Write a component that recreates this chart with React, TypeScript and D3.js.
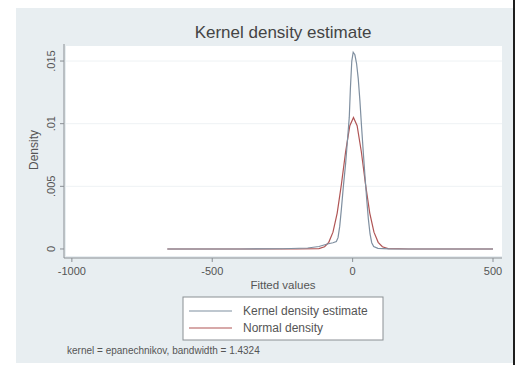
import { useEffect } from 'react';
import * as d3 from 'd3';

const W = 518;
const H = 371;

// kernel density estimate
const kernelX = [-660, -400, -250, -160, -120, -90, -70, -58, -52, -46, -40, -33, -25, -18, -12, -8, -3, 2, 8, 14, 20, 26, 32, 38, 44, 50, 56, 62, 68, 75, 90, 130, 200, 500];
const kernelY = [0, 0, 0.00002, 0.00008, 0.0002, 0.0004, 0.0005, 0.0006, 0.0009, 0.0018, 0.0032, 0.005, 0.0068, 0.0088, 0.0105, 0.0128, 0.015, 0.0157, 0.0155, 0.0148, 0.0136, 0.0118, 0.0097, 0.0077, 0.0058, 0.004, 0.0024, 0.0012, 0.0005, 0.0002, 0.00005, 0.00001, 0, 0];

// normal density
const normalX = [-660, -300, -200, -120, -100, -85, -70, -55, -40, -25, -10, 3, 16, 31, 46, 61, 76, 91, 106, 126, 200, 300, 500];
const normalY = [0, 0, 0, 0.00003, 0.00018, 0.00053, 0.00134, 0.00287, 0.00515, 0.00776, 0.00984, 0.0105, 0.00984, 0.00776, 0.00515, 0.00287, 0.00134, 0.00053, 0.00018, 0.00003, 0, 0, 0];

const xTicks = [-1000, -500, 0, 500];
const yTicks = [0, 0.005, 0.01, 0.015];
const yTickLabels = ['0', '.005', '.01', '.015'];
const legendLabels = ['Kernel density estimate', 'Normal density'];
const seriesColors = ['#7f8fa0', '#b05555'];

const font = '"Liberation Sans", Arial, sans-serif';

type Pt = { x: number; y: number };

export default function App() {
    useEffect(() => {
        document.body.style.margin = '0';
    }, []);

    // plot region
    const left = 64;
    const right = 502;
    const top = 44;
    const bottom = 258;

    const xScale = d3.scaleLinear().domain([-1028, 532]).range([left, right]);
    const yScale = d3.scaleLinear().domain([-0.00072, 0.01636]).range([bottom, top]);

    const line = d3
        .line<Pt>()
        .x((d) => xScale(d.x))
        .y((d) => yScale(d.y));

    const kernel = kernelX.map((x, i) => ({ x, y: kernelY[i] }));
    const normal = normalX.map((x, i) => ({ x, y: normalY[i] }));

    const legX = 183;
    const legY = 297;

    return (
        <svg width={W} height={H} style={{ display: 'block', fontFamily: font }}>
            <rect x={0} y={0} width={W} height={H} fill="#ffffff" />
            {/* graph region */}
            <rect x={16} y={8} width={497} height={355} fill="#e8eef1" />
            <rect x={513} y={0} width={2} height={365} fill="#1e1e1e" />

            <text x={283} y={38} textAnchor="middle" fontSize={17} fill="#444">
                Kernel density estimate
            </text>

            {/* plot area */}
            <rect x={left + 2} y={top + 2} width={right - left - 2} height={bottom - top - 4} fill="#ffffff" />

            {/* grid */}
            {yTicks.slice(1).map((t) => (
                <line key={t} x1={left + 2} x2={right} y1={yScale(t)} y2={yScale(t)} stroke="#eef2f4" strokeWidth={1} />
            ))}

            {/* y axis */}
            <line x1={left} x2={left} y1={top} y2={bottom} stroke="#8a8f94" strokeWidth={1} />
            {yTicks.map((t, i) => (
                <g key={t} transform={`translate(${left},${yScale(t)})`}>
                    <line x1={-4} x2={0} stroke="#8a8f94" />
                    <text transform="translate(-9,0) rotate(-90)" textAnchor="middle" fontSize={11} fill="#555">
                        {yTickLabels[i]}
                    </text>
                </g>
            ))}
            <text transform={`translate(38,150) rotate(-90)`} textAnchor="middle" fontSize={12} fill="#555">
                Density
            </text>

            {/* x axis */}
            <line x1={left} x2={right} y1={bottom} y2={bottom} stroke="#8a8f94" strokeWidth={1} />
            {xTicks.map((t) => (
                <g key={t} transform={`translate(${xScale(t)},${bottom})`}>
                    <line y1={0} y2={4} stroke="#8a8f94" />
                    <text y={17} textAnchor="middle" fontSize={11} fill="#555">
                        {t}
                    </text>
                </g>
            ))}
            <text x={283} y={289} textAnchor="middle" fontSize={11.5} fill="#555">
                Fitted values
            </text>

            {/* curves */}
            <path d={line(normal) ?? ''} fill="none" stroke={seriesColors[1]} strokeWidth={1.2} />
            <path d={line(kernel) ?? ''} fill="none" stroke={seriesColors[0]} strokeWidth={1.2} />

            {/* legend */}
            <rect x={legX} y={legY} width={200} height={43} fill="#ffffff" stroke="#8a8f94" strokeWidth={1} />
            {legendLabels.map((lab, i) => (
                <g key={lab} transform={`translate(${legX},${legY + 14 + i * 17})`}>
                    <line x1={6} x2={49} stroke={seriesColors[i]} strokeWidth={1.2} />
                    <text x={60} y={4} fontSize={12} fill="#555">
                        {lab}
                    </text>
                </g>
            ))}

            <text x={67} y={354} fontSize={10} fill="#555">
                kernel = epanechnikov, bandwidth = 1.4324
            </text>
        </svg>
    );
}
